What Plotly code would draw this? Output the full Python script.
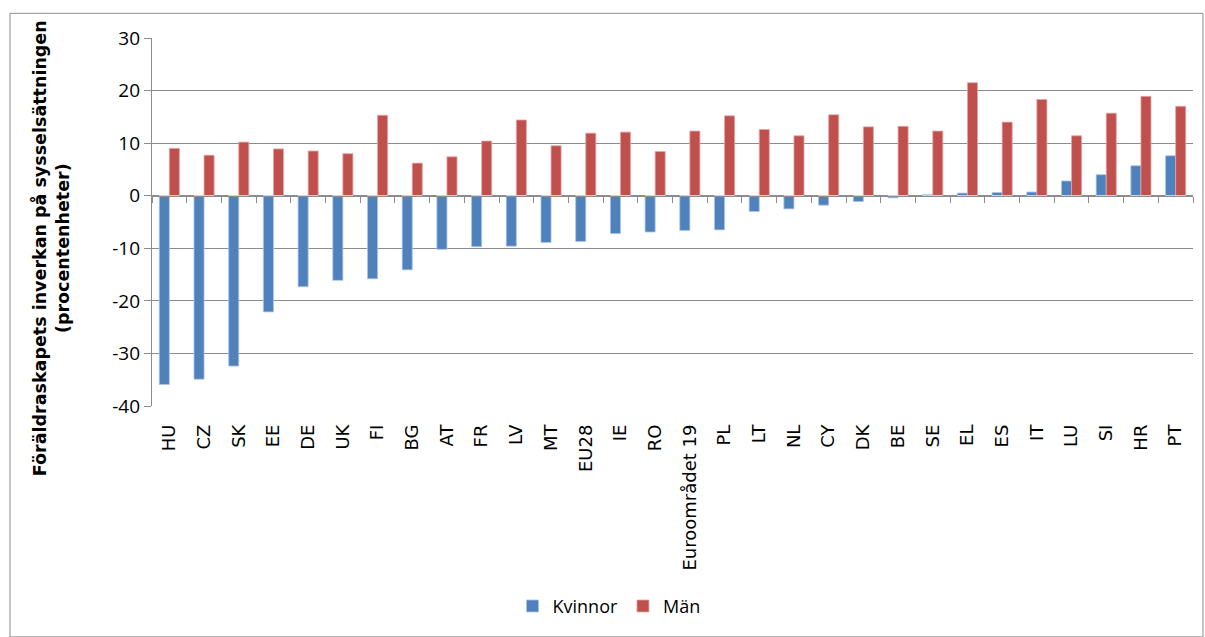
import plotly.graph_objects as go

categories = ["HU", "CZ", "SK", "EE", "DE", "UK", "FI", "BG", "AT", "FR", "LV", "MT", "EU28", "IE", "RO",
              "Euroområdet 19", "PL", "LT", "NL", "CY", "DK", "BE", "SE", "EL", "ES", "IT", "LU", "SI", "HR", "PT"]
kvinnor = [-35.9, -34.9, -32.4, -22.1, -17.3, -16.1, -15.8, -14.1, -10.2, -9.7, -9.6, -8.9, -8.7, -7.2, -6.9,
           -6.6, -6.5, -3.0, -2.5, -1.8, -1.1, -0.4, 0.2, 0.5, 0.6, 0.7, 2.8, 4.0, 5.7, 7.6]
man = [9.0, 7.7, 10.2, 8.9, 8.5, 8.0, 15.3, 6.2, 7.4, 10.4, 14.4, 9.5, 11.9, 12.1, 8.4,
       12.3, 15.2, 12.6, 11.4, 15.4, 13.1, 13.2, 12.3, 21.5, 14.0, 18.3, 11.4, 15.7, 18.9, 17.0]
y_ticks = [30, 20, 10, 0, -10, -20, -30, -40]

BLUE = "#4F81BD"
RED = "#C0504D"
GRID = "#8C8C8C"

fig = go.Figure()
fig.add_trace(go.Bar(x=categories, y=kvinnor, name="Kvinnor", marker=dict(color=BLUE, line=dict(color="#A9C4E4", width=0.8))))
fig.add_trace(go.Bar(x=categories, y=man, name="Män", marker=dict(color=RED, line=dict(color="#E3A6A4", width=0.8))))
# invisible trace on the overlay axis that draws tick marks at y=0
fig.add_trace(go.Bar(x=categories, y=[0] * len(categories), xaxis="x2", showlegend=False,
                     hoverinfo="skip", marker=dict(color="rgba(0,0,0,0)")))

L, R, T, B = 152, 12, 38, 226
W, H = 1205, 637
pw, ph = W - L - R, H - T - B

def px_x(p):
    return (p - L) / pw

def px_y(p):
    return (H - B - p) / ph

fig.update_layout(
    width=W, height=H,
    margin=dict(l=L, r=R, t=T, b=B),
    paper_bgcolor="white", plot_bgcolor="white",
    barmode="group", bargap=0.42, bargroupgap=0,
    font=dict(family="Open Sans, sans-serif", color="#000000", size=16),
    showlegend=True,
    legend=dict(orientation="h", x=px_x(609), y=px_y(614), xanchor="center", yanchor="middle",
                font=dict(family="Open Sans, sans-serif", size=18), itemwidth=30, traceorder="normal",
                bgcolor="rgba(0,0,0,0)"),
    xaxis=dict(
        type="category", categoryorder="array", categoryarray=categories,
        showline=False, ticks="", showgrid=False,
        tickangle=-90, tickfont=dict(family="DejaVu Sans, sans-serif", size=18, color="#000"),
        ticklabelstandoff=14,
    ),
    xaxis2=dict(
        type="category", categoryorder="array", categoryarray=categories,
        overlaying="x", anchor="free", position=(0 - (-40)) / 70,
        showticklabels=False, showline=True, linecolor=GRID, linewidth=1.3,
        ticks="outside", ticklen=6, tickcolor=GRID, tickwidth=1.3, tickson="boundaries",
        showgrid=False, matches="x",
    ),
    yaxis=dict(
        range=[-40, 30], tickvals=y_ticks, ticktext=[str(v) for v in y_ticks],
        showgrid=True, gridcolor=GRID, gridwidth=1.3,
        zeroline=False, showline=True, linecolor=GRID, linewidth=1.3,
        ticks="outside", ticklen=7, tickcolor=GRID, tickwidth=1.3,
        tickfont=dict(family="Open Sans, sans-serif", size=19, color="#000"),
    ),
    annotations=[dict(
        text="<b>Föräldraskapets inverkan på sysselsättningen<br>(procentenheter)</b>",
        xref="paper", yref="paper", x=px_x(51), y=px_y(251), textangle=-90,
        showarrow=False, xanchor="center", yanchor="middle",
        font=dict(family="DejaVu Sans, sans-serif", size=17.5, color="#000"),
    )],
    shapes=[dict(type="rect", xref="paper", yref="paper",
                 x0=px_x(10), x1=px_x(1203), y0=px_y(645), y1=px_y(13),
                 line=dict(color="#8C8C8C", width=1), fillcolor="rgba(0,0,0,0)", layer="below")],
)

fig.write_html("out.html", post_script="document.body.style.margin='0';",
               config={"displayModeBar": False})
